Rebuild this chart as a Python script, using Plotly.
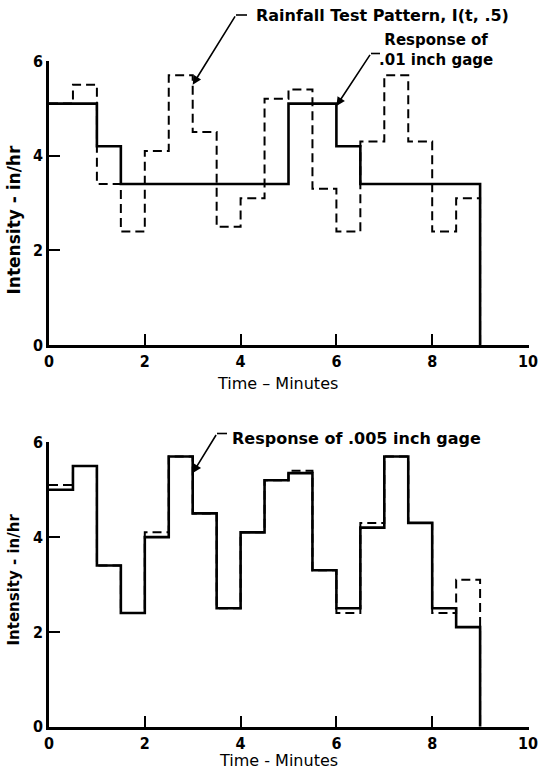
import plotly.graph_objects as go

# Half-minute intervals of the test storm (start of each interval, minutes)
minutes = [0.0, 0.5, 1.0, 1.5, 2.0, 2.5, 3.0, 3.5, 4.0,
           4.5, 5.0, 5.5, 6.0, 6.5, 7.0, 7.5, 8.0, 8.5]
end_minute = 9.0

# Upper panel: rainfall test pattern I(t, .5) and .01 inch gage response (in/hr)
pattern_top = [5.1, 5.5, 3.4, 2.4, 4.1, 5.7, 4.5, 2.5, 3.1,
               5.2, 5.4, 3.3, 2.4, 4.3, 5.7, 4.3, 2.4, 3.1]
gage_01 = [5.1, 5.1, 4.2, 3.4, 3.4, 3.4, 3.4, 3.4, 3.4,
           3.4, 5.1, 5.1, 4.2, 3.4, 3.4, 3.4, 3.4, 3.4]

# Lower panel: test pattern and .005 inch gage response (in/hr)
pattern_bottom = [5.1, 5.5, 3.4, 2.4, 4.1, 5.7, 4.5, 2.5, 4.1,
                  5.2, 5.4, 3.3, 2.4, 4.3, 5.7, 4.3, 2.4, 3.1]
gage_005 = [5.0, 5.5, 3.4, 2.4, 4.0, 5.7, 4.5, 2.5, 4.1,
            5.2, 5.35, 3.3, 2.5, 4.2, 5.7, 4.3, 2.5, 2.1]

x_ticks = [0, 2, 4, 6, 8, 10]
y_ticks = [0, 2, 4, 6]

W, H = 538, 781
LEFT, RIGHT = 49, 528
TOP1, BOT1 = 61, 345
TOP2, BOT2 = 442.3, 726.7
X_MAX = 10.02  # a hair past 10 so the last tick stays drawn
RIGHT_EDGE = LEFT + (RIGHT - LEFT) * X_MAX / 10


def px_x(v):
    return v / W


def px_y(v):
    return 1 - v / H


def steps(values):
    xs = minutes + [end_minute, end_minute]
    ys = values + [values[-1], 0]
    return xs, ys


fig = go.Figure()

for pattern, gage, xa, ya in [(pattern_top, gage_01, "x", "y"),
                              (pattern_bottom, gage_005, "x2", "y2")]:
    px_, py_ = steps(pattern)
    fig.add_trace(go.Scatter(x=px_, y=py_, mode="lines", line_shape="hv",
                             line=dict(color="black", width=2, dash="9px,5px"),
                             xaxis=xa, yaxis=ya, showlegend=False, hoverinfo="skip"))
    gx, gy = steps(gage)
    fig.add_trace(go.Scatter(x=gx, y=gy, mode="lines", line_shape="hv",
                             line=dict(color="black", width=2.6),
                             xaxis=xa, yaxis=ya, showlegend=False, hoverinfo="skip"))

tick_font = dict(family="Liberation Sans Narrow, DejaVu Sans Condensed, Liberation Sans",
                 size=16, color="black", weight="bold")

axis_common = dict(showline=True, linewidth=2.5, linecolor="black", mirror=False,
                   ticks="inside", ticklen=11, tickwidth=1.5, tickcolor="black",
                   showgrid=False, zeroline=False, tickfont=tick_font, fixedrange=True,
                   automargin=False, ticklabeloverflow="allow")

fig.update_layout(
    template="none",
    width=W, height=H, autosize=False,
    margin=dict(l=0, r=0, t=0, b=0, pad=0, autoexpand=False),
    paper_bgcolor="white", plot_bgcolor="white",
    xaxis=dict(domain=[px_x(LEFT), px_x(RIGHT_EDGE)], range=[0, X_MAX], anchor="y",
               tickvals=x_ticks, ticklabelstandoff=0, **axis_common),
    yaxis=dict(domain=[px_y(BOT1), px_y(TOP1)], range=[0, 6], anchor="x",
               tickvals=y_ticks, **axis_common),
    xaxis2=dict(domain=[px_x(LEFT), px_x(RIGHT_EDGE)], range=[0, X_MAX], anchor="y2",
                tickvals=x_ticks, ticklabelstandoff=0, **axis_common),
    yaxis2=dict(domain=[px_y(BOT2), px_y(TOP2)], range=[0, 6], anchor="x2",
                tickvals=y_ticks, **axis_common),
)

annotations = []


def text(s, x, y, size, xanchor="left", angle=0, weight="bold"):
    annotations.append(dict(text=s, x=px_x(x), y=px_y(y), xref="paper", yref="paper",
                            xanchor=xanchor, yanchor="middle", showarrow=False,
                            textangle=angle, align="center",
                            font=dict(family="DejaVu Sans", size=size, color="black",
                                      weight=weight)))


def arrow(tip_x, tip_y, xr, yr, ax, ay):
    annotations.append(dict(text="", x=tip_x, y=tip_y, xref=xr, yref=yr,
                            ax=ax, ay=ay, showarrow=True, arrowhead=2,
                            arrowsize=1.1, arrowwidth=1.6, arrowcolor="black",
                            standoff=0))


# Upper panel labels
text("Rainfall Test Pattern, I(t, .5)", 254, 15.5, 16)
text("Response of<br>.01 inch gage", 436, 50, 15, xanchor="center")
text("Time \u2013 Minutes", 277, 383.5, 16, xanchor="center", weight="normal")
text("Intensity - in/hr", 13.5, 220, 17, xanchor="center", angle=-90)

# Lower panel labels
text("Response of .005 inch gage", 230, 438, 16)
text("Time - Minutes", 278, 760, 16, xanchor="center", weight="normal")
text("Intensity - in/hr", 13.5, 580, 15, xanchor="center", angle=-90)

# Leader arrows (tip on the curve, tail offset in pixels)
arrow(3.0, 5.5, "x", "y", 43.3, -69.8)
arrow(6.0, 5.05, "x", "y", 34.6, -52.6)
arrow(3.0, 5.35, "x2", "y2", 24.3, -39.6)

shapes = []
for (x0, x1, yy) in [(236, 247, 15), (371, 380, 53.5), (217, 227, 433.5)]:
    shapes.append(dict(type="line", xref="paper", yref="paper",
                       x0=px_x(x0), x1=px_x(x1), y0=px_y(yy), y1=px_y(yy),
                       line=dict(color="black", width=1.6)))

fig.update_layout(annotations=annotations, shapes=shapes)

fig.write_html("out.html")
